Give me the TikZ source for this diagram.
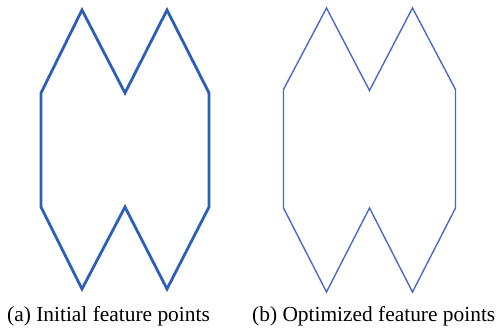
\documentclass[tikz,border=0pt]{standalone}
\usepackage{fontspec}
\setmainfont{Liberation Serif}
\begin{document}
\begin{tikzpicture}[x=1pt,y=-1pt,
  initline/.style={draw={rgb,255:red,45;green,95;blue,185},line width=2.8pt,line join=miter},
  optline/.style={draw={rgb,255:red,75;green,105;blue,200},line width=1.4pt,line join=miter},
  caption/.style={anchor=base west,inner sep=0pt,font=\fontsize{21.4}{24}\selectfont}]
\useasboundingbox (0,0) rectangle (496,328);
% (a) initial
\coordinate (a1) at (82,10);
\coordinate (a2) at (125,93);
\coordinate (a3) at (167,10);
\coordinate (a4) at (209,93);
\coordinate (a5) at (209,207);
\coordinate (a6) at (167,289);
\coordinate (a7) at (125,207);
\coordinate (a8) at (82,289);
\coordinate (a9) at (41,207);
\coordinate (a10) at (41,93);
\draw[initline] (a1)--(a2)--(a3)--(a4)--(a5)--(a6)--(a7)--(a8)--(a9)--(a10)--cycle;
% (b) optimized
\coordinate (b1) at (326.5,8);
\coordinate (b2) at (369.5,90.5);
\coordinate (b3) at (412.5,8);
\coordinate (b4) at (455.5,89.5);
\coordinate (b5) at (455.5,208);
\coordinate (b6) at (412.5,292);
\coordinate (b7) at (369.5,208);
\coordinate (b8) at (326.5,292);
\coordinate (b9) at (283.5,208);
\coordinate (b10) at (283.5,89.5);
\draw[optline] (b1)--(b2)--(b3)--(b4)--(b5)--(b6)--(b7)--(b8)--(b9)--(b10)--cycle;
\node[caption] (capa) at (7,322) {(a) Initial feature points};
\node[caption] (capb) at (252,322) {(b) Optimized feature points};
\end{tikzpicture}
\end{document}
